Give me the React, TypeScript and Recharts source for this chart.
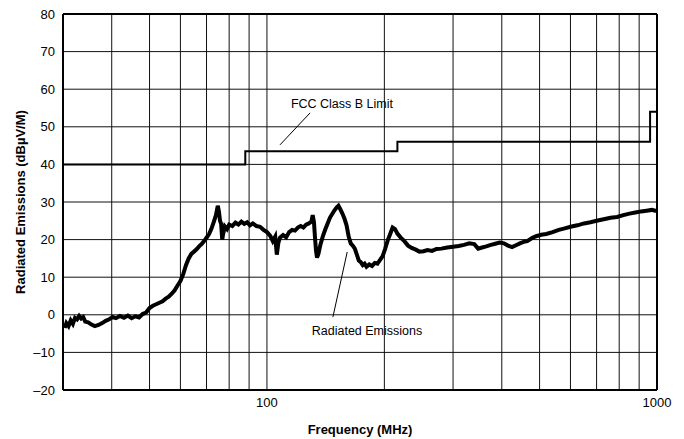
import { LineChart, Line, XAxis, YAxis, CartesianGrid, ReferenceLine, ReferenceDot, Label } from 'recharts'

// x positions of the grid (MHz), only 100 and 1000 are labelled
const freqTicks = [30, 40, 50, 60, 70, 80, 90, 100, 200, 300, 400, 500, 600, 700, 800, 900, 1000]
const levelTicks = [-20, -10, 0, 10, 20, 30, 40, 50, 60, 70, 80]

// FCC class B limit (step)
const limitFreq = [30, 88, 88, 216, 216, 960, 960, 1000]
const limitLevel = [40, 40, 43.5, 43.5, 46, 46, 54, 54]

const emFreq = [
  30.3, 30.6, 31.0, 31.4, 31.8, 32.2, 32.6, 33.0, 33.4, 33.8, 34.2, 34.8, 35.5, 36.2, 37.0, 37.8, 38.6, 39.4,
  40.2, 41.0, 42.0, 43.0, 44.0, 45.0, 46.0, 47.0, 48.0, 49.0, 50.0, 51.0, 52.0, 53.0, 54.0, 55.0, 56.0, 57.0,
  58.0, 59.0, 60.0, 61.0, 62.0, 63.0, 64.0, 65.0, 66.0, 67.0, 68.0, 69.0, 70.0, 71.0, 72.0, 73.0, 74.0, 74.8,
  75.3, 75.8, 76.3, 76.8, 77.2, 78.0, 79.0, 80.0, 81.5, 83.0, 84.5, 86.0, 87.5, 89.0, 90.5, 92.0, 94.0, 96.0,
  98.0, 100.0, 102.0, 103.5, 105.0, 106.0, 107.0, 108.0, 110.0, 112.0, 114.0, 116.0, 118.0, 120.0, 122.0,
  124.0, 126.0, 128.0, 130.0, 131.0, 132.0, 132.8, 133.6, 134.4, 135.5, 137.0, 139.0, 141.0, 143.0, 145.0,
  147.0, 149.0, 151.0, 152.5, 154.0, 156.0, 158.0, 160.0, 162.0, 164.0, 166.0, 168.0, 170.0, 172.0, 174.0,
  176.0, 178.0, 180.0, 183.0, 186.0, 189.0, 192.0, 195.0, 198.0, 201.0, 204.0, 207.0, 210.0, 213.0, 216.0,
  220.0, 225.0, 230.0, 235.0, 240.0, 246.0, 252.0, 258.0, 265.0, 272.0, 280.0, 290.0, 300.0, 310.0, 320.0,
  330.0, 340.0, 348.0, 356.0, 365.0, 375.0, 385.0, 395.0, 405.0, 415.0, 425.0, 435.0, 445.0, 455.0, 465.0,
  478.0, 490.0, 505.0, 520.0, 540.0, 560.0, 580.0, 600.0, 625.0, 650.0, 675.0, 700.0, 730.0, 760.0, 790.0,
  820.0, 850.0, 880.0, 910.0, 940.0, 970.0, 995.0,
]
const emLevel = [
  -3.5, -2.2, -3.0, -1.5, -2.4, -0.8, -1.2, -0.3, -1.0, -0.6, -1.8, -2.0, -2.6, -3.0, -2.7, -2.2, -1.6, -1.2,
  -0.6, -0.9, -0.3, -0.8, -0.2, -0.9, -0.4, -0.7, 0.2, 0.6, 1.8, 2.4, 2.8, 3.2, 3.6, 4.3, 4.8, 5.6,
  6.5, 7.8, 9.0, 10.8, 13.2, 15.0, 16.2, 16.8, 17.4, 18.2, 18.8, 19.6, 20.5, 21.4, 22.8, 24.6, 26.5, 29.0,
  27.5, 25.0, 24.2, 20.0, 21.5, 23.5, 22.8, 24.0, 23.6, 24.5, 24.0, 24.8, 24.2, 24.6, 23.8, 24.3, 23.6, 23.4,
  22.6, 22.0, 21.0, 19.6, 20.8, 16.0, 19.2, 20.5, 21.2, 20.6, 22.0, 22.6, 22.4, 23.2, 23.6,
  23.2, 24.0, 24.3, 24.8, 26.5, 24.6, 20.5, 17.0, 15.2, 16.2, 18.5, 20.8, 22.6, 24.2, 25.8,
  26.8, 27.8, 28.6, 29.0, 28.2, 27.0, 25.6, 23.8, 20.8, 19.0, 18.4, 17.6, 16.0, 14.4, 14.0,
  13.2, 13.6, 12.8, 13.4, 13.0, 13.8, 13.6, 14.6, 15.6, 17.6, 19.8, 21.5, 23.2, 22.8, 21.6,
  20.6, 19.6, 18.4, 17.8, 17.4, 16.8, 16.9, 17.2, 17.0, 17.5, 17.6, 17.9, 18.1, 18.3, 18.6,
  19.0, 18.8, 17.6, 17.9, 18.2, 18.6, 18.9, 19.2, 19.0, 18.4, 18.0, 18.5, 19.0, 19.4, 19.6,
  20.4, 20.9, 21.3, 21.5, 22.0, 22.6, 23.0, 23.4, 23.8, 24.3, 24.6, 25.0, 25.4, 25.8, 26.0,
  26.5, 26.9, 27.2, 27.5, 27.7, 27.9, 27.6,
]

const limitData = limitFreq.map((f, i) => ({ f, v: limitLevel[i] }))
const emData = emFreq.map((f, i) => ({ f, v: emLevel[i] }))

const font = '"Liberation Sans", Arial, sans-serif'

export default function App() {
  return (
    <div style={{ position: 'absolute', left: 0, top: 0, background: '#fff' }}>
      <LineChart width={684} height={439} margin={{ top: 14, right: 27, bottom: 0, left: 0 }} style={{ fontFamily: font }}>
        <CartesianGrid stroke="#111" strokeWidth={1} />
        <XAxis
          dataKey="f"
          type="number"
          scale="log"
          domain={[30, 1000]}
          ticks={freqTicks}
          allowDataOverflow
          height={49}
          tickLine={false}
          axisLine={{ stroke: '#000', strokeWidth: 2 }}
          tick={{ fontSize: 13, fill: '#000' }}
          tickFormatter={(v) => (v === 100 || v === 1000 ? String(v) : '')}
          interval={0}
        >
          <Label value="Frequency (MHz)" position="insideBottom" offset={5} style={{ fontSize: 13, fontWeight: 'bold', fill: '#000' }} />
        </XAxis>
        <YAxis
          type="number"
          domain={[-20, 80]}
          ticks={levelTicks}
          width={63}
          tickLine={false}
          axisLine={{ stroke: '#000', strokeWidth: 2 }}
          tick={{ fontSize: 13, fill: '#000' }}
          tickFormatter={(v) => (v < 0 ? `\u2013${Math.abs(v)}` : String(v))}
          interval={0}
        >
          <Label value="Radiated Emissions (dBµV/M)" angle={-90} position="insideLeft" offset={20} style={{ fontSize: 13, fontWeight: 'bold', fill: '#000', textAnchor: 'middle' }} />
        </YAxis>
        <ReferenceLine y={80} stroke="#000" strokeWidth={2} />
        <ReferenceLine x={1000} stroke="#000" strokeWidth={2} />

        <Line data={limitData} dataKey="v" type="linear" stroke="#000" strokeWidth={2} dot={false} isAnimationActive={false} />
        <Line data={emData} dataKey="v" type="linear" stroke="#000" strokeWidth={4} strokeLinejoin="miter" dot={false} isAnimationActive={false} />

        {/* annotations */}
        <ReferenceLine segment={[{ x: 129, y: 53.7 }, { x: 108, y: 45.2 }]} stroke="#000" strokeWidth={1} />
        <ReferenceDot x={155.7} y={56.2} r={0} fill="none" stroke="none"
          label={{ value: 'FCC Class B Limit', position: 'center', fontSize: 12.5, fill: '#000' }} />
        <ReferenceLine segment={[{ x: 147.6, y: -0.6 }, { x: 160.6, y: 16.7 }]} stroke="#000" strokeWidth={1} />
        <ReferenceDot x={180.5} y={-4.3} r={0} fill="none" stroke="none"
          label={{ value: 'Radiated Emissions', position: 'center', fontSize: 12.5, fill: '#000' }} />
      </LineChart>
    </div>
  )
}
